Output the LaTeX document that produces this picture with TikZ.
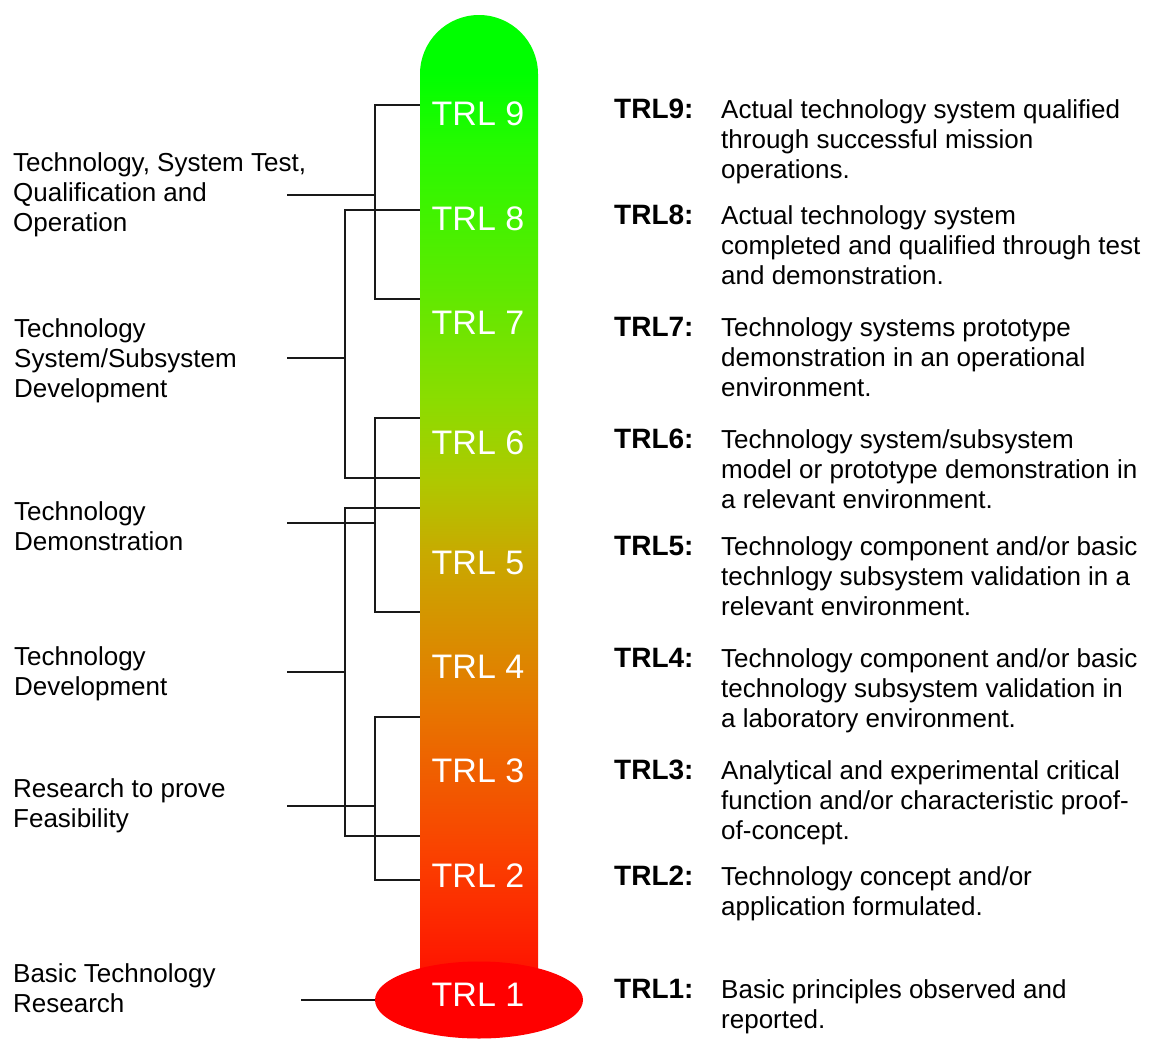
\documentclass[tikz,border=0pt]{standalone}
\usepackage{fontspec}
\setmainfont{Liberation Sans}
\usetikzlibrary{shapes.geometric}
\definecolor{g0}{RGB}{0,255,0}
\definecolor{g1}{RGB}{40,250,0}
\definecolor{g2}{RGB}{140,220,0}
\definecolor{g3}{RGB}{175,200,0}
\definecolor{g4}{RGB}{200,170,0}
\definecolor{g5}{RGB}{230,120,0}
\definecolor{g6}{RGB}{250,65,0}
\definecolor{g7}{RGB}{255,15,0}
\definecolor{linecol}{RGB}{25,25,25}
\pgfdeclareverticalshading{trlbar}{100bp}{color(0bp)=(g7); color(25bp)=(g7); color(32.2bp)=(g6); color(40.5bp)=(g5); color(48.7bp)=(g4); color(52.6bp)=(g3); color(57bp)=(g2); color(70.8bp)=(g1); color(75bp)=(g0); color(100bp)=(g0)}
\begin{document}
\begin{tikzpicture}[x=1pt,y=-1pt,
  conn/.style={draw=linecol, line width=2.4pt, line join=miter},
  trllab/.style={text=white, font=\fontsize{34}{40}\selectfont, inner sep=0pt, anchor=base},
  leftlab/.style={font=\fontsize{26}{30}\selectfont, align=left, inner sep=0pt, anchor=north west},
  desc/.style={font=\fontsize{26}{30}\selectfont, align=left, inner sep=0pt, anchor=north west},
  rkey/.style={font=\fontsize{28}{30}\selectfont\bfseries, inner sep=0pt, anchor=base west}]
\useasboundingbox (0,0) rectangle (1149,1039);
\fill[white] (0,0) rectangle (1149,1039);

% connector coordinates
\coordinate (t9) at (420,105);
\coordinate (t8) at (420,210);
\coordinate (t7) at (420,299);
\coordinate (t6a) at (420,418);
\coordinate (t6b) at (420,478);
\coordinate (t5a) at (420,508);
\coordinate (t5b) at (420,612);
\coordinate (t3a) at (420,717);
\coordinate (t3b) at (420,836);
\coordinate (t2) at (420,880);
\coordinate (e1) at (287,195);
\coordinate (e2) at (287,358);
\coordinate (e3) at (287,523);
\coordinate (e4) at (287,672);
\coordinate (e5) at (287,806);
\coordinate (e6) at (301,1000);

% brackets
\draw[conn] (t9) -- (375,105) -- (375,299) -- (t7);
\draw[conn] (e1) -- (375,195);
\draw[conn] (t8) -- (345,210) -- (345,478) -- (t6b);
\draw[conn] (e2) -- (345,358);
\draw[conn] (t6a) -- (375,418) -- (375,612) -- (t5b);
\draw[conn] (e3) -- (375,523);
\draw[conn] (t5a) -- (345,508) -- (345,836) -- (t3b);
\draw[conn] (e4) -- (345,672);
\draw[conn] (t3a) -- (375,717) -- (375,880) -- (t2);
\draw[conn] (e5) -- (375,806);

% thermometer
\fill[g0] (479,74) circle[radius=59pt];
\shade[shading=trlbar] (420,74) rectangle (538,985);
\node[ellipse, fill=red, minimum width=208pt, minimum height=77pt, inner sep=0pt] (bulb) at (479,1000) {};
\draw[conn] (e6) -- (bulb.west);

% labels in bar
\node[trllab] (l9) at (478,125) {TRL 9};
\node[trllab] (l8) at (478,230) {TRL 8};
\node[trllab] (l7) at (478,334) {TRL 7};
\node[trllab] (l6) at (478,454) {TRL 6};
\node[trllab] (l5) at (478,574) {TRL 5};
\node[trllab] (l4) at (478,678) {TRL 4};
\node[trllab] (l3) at (478,782) {TRL 3};
\node[trllab] (l2) at (478,887) {TRL 2};
\node[trllab] (l1) at (478,1006) {TRL 1};

% left labels (top = baseline - 20)
\node[leftlab] (p1) at (13,151) {\rule{0pt}{20pt}Technology, System Test,\\Qualification and\\Operation};
\node[leftlab] (p2) at (14,317) {\rule{0pt}{20pt}Technology\\System/Subsystem\\Development};
\node[leftlab] (p3) at (14,500) {\rule{0pt}{20pt}Technology\\Demonstration};
\node[leftlab] (p4) at (14,645) {\rule{0pt}{20pt}Technology\\Development};
\node[leftlab] (p5) at (13,777) {\rule{0pt}{20pt}Research to prove\\Feasibility};
\node[leftlab] (p6) at (13,962) {\rule{0pt}{20pt}Basic Technology\\Research};

% right side
\node[rkey] (k9) at (614,118) {TRL9:};
\node[desc] (d9) at (721,98) {\rule{0pt}{20pt}Actual technology system qualified\\through successful mission\\operations.};
\node[rkey] (k8) at (614,224) {TRL8:};
\node[desc] (d8) at (721,204) {\rule{0pt}{20pt}Actual technology system\\completed and qualified through test\\and demonstration.};
\node[rkey] (k7) at (614,336) {TRL7:};
\node[desc] (d7) at (721,316) {\rule{0pt}{20pt}Technology systems prototype\\demonstration in an operational\\environment.};
\node[rkey] (k6) at (614,448) {TRL6:};
\node[desc] (d6) at (721,428) {\rule{0pt}{20pt}Technology system/subsystem\\model or prototype demonstration in\\a relevant environment.};
\node[rkey] (k5) at (614,555) {TRL5:};
\node[desc] (d5) at (721,535) {\rule{0pt}{20pt}Technology component and/or basic\\technlogy subsystem validation in a\\relevant environment.};
\node[rkey] (k4) at (614,667) {TRL4:};
\node[desc] (d4) at (721,647) {\rule{0pt}{20pt}Technology component and/or basic\\technology subsystem validation in\\a laboratory environment.};
\node[rkey] (k3) at (614,779) {TRL3:};
\node[desc] (d3) at (721,759) {\rule{0pt}{20pt}Analytical and experimental critical\\function and/or characteristic proof-\\of-concept.};
\node[rkey] (k2) at (614,885) {TRL2:};
\node[desc] (d2) at (721,865) {\rule{0pt}{20pt}Technology concept and/or\\application formulated.};
\node[rkey] (k1) at (614,998) {TRL1:};
\node[desc] (d1) at (721,978) {\rule{0pt}{20pt}Basic principles observed and\\reported.};
\end{tikzpicture}
\end{document}
